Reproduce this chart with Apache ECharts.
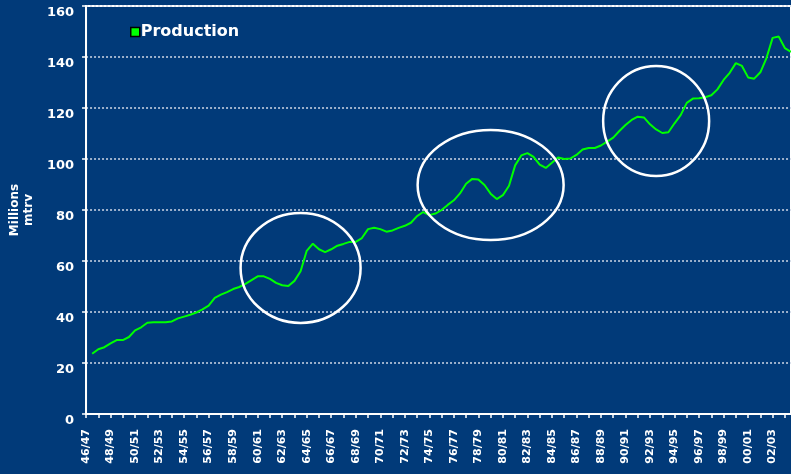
<!DOCTYPE html>
<html>
<head>
<meta charset="utf-8">
<script src="https://cdn.jsdelivr.net/npm/echarts@6/dist/echarts.min.js"></script>
<style>
  html, body { margin: 0; padding: 0; background: #013a79; }
  #chart { width: 791px; height: 474px; }
</style>
</head>
<body>
<div id="chart"></div>
<script>
// season labels, one per year (every other one is shown on the axis)
const seasons = [
  "46/47", "47/48", "48/49", "49/50", "50/51", "51/52", "52/53", "53/54", "54/55", "55/56",
  "56/57", "57/58", "58/59", "59/60", "60/61", "61/62", "62/63", "63/64", "64/65", "65/66",
  "66/67", "67/68", "68/69", "69/70", "70/71", "71/72", "72/73", "73/74", "74/75", "75/76",
  "76/77", "77/78", "78/79", "79/80", "80/81", "81/82", "82/83", "83/84", "84/85", "85/86",
  "86/87", "87/88", "88/89", "89/90", "90/91", "91/92", "92/93", "93/94", "94/95", "95/96",
  "96/97", "97/98", "98/99", "99/00", "00/01", "01/02", "02/03", "03/04"
];

// production, millions mtrv, read at half-year steps
const production = [
  "-", 23.6, 25.4, 26.2, 27.7, 29.0, 29.0, 30.2, 32.8, 34.0,
  35.8, 36.0, 36.0, 36.0, 36.3, 37.5, 38.2, 38.9, 39.8, 41.0,
  42.5, 45.5, 46.8, 47.8, 49.0, 49.8, 51.0, 52.5, 54.0, 54.0,
  53.0, 51.4, 50.5, 50.2, 52.2, 56.0, 64.0, 66.8, 64.6, 63.5,
  64.6, 66.0, 66.7, 67.5, 67.5, 69.0, 72.5, 73.0, 72.5, 71.5,
  72.0, 73.0, 73.8, 75.0, 77.6, 79.2, 78.0, 78.6, 80.0, 82.0,
  83.8, 86.5, 90.3, 92.2, 92.0, 89.8, 86.4, 84.3, 85.8, 89.5,
  97.5, 101.4, 102.3, 100.8, 97.8, 96.5, 98.5, 100.6, 100.0, 100.2,
  101.6, 103.7, 104.3, 104.3, 105.3, 106.8, 108.4, 111.0, 113.3, 115.3,
  116.6, 116.3, 113.6, 111.6, 110.2, 110.5, 114.0, 117.2, 122.0, 123.7,
  123.8, 124.2, 125.0, 127.3, 131.0, 133.8, 137.6, 136.5, 132.0, 131.5,
  134.0, 139.6, 147.5, 148.0, 143.5, 142.0
];

// highlighted periods: [half-year index, value]
const highlights = [
  { center: [35.4, 57.3], rx: 60, ry: 55 },
  { center: [66.4, 89.8], rx: 73, ry: 55 },
  { center: [93.4, 114.9], rx: 53, ry: 55 }
];

// two half-year slots per season
const halfYears = [];
seasons.forEach(s => {
  halfYears.push(s);
  halfYears.push("");
});

const white = "#ffffff";
const font = "DejaVu Sans";

const chart = echarts.init(document.getElementById("chart"));

chart.setOption({
  backgroundColor: "#013a79",
  animation: false,
  grid: {
    left: 85,
    top: 6,
    right: -2,
    bottom: 60,
    show: true,
    borderColor: white,
    borderWidth: 2,
    backgroundColor: "transparent"
  },
  legend: {
    left: 125,
    top: 19,
    itemWidth: 9,
    itemHeight: 9,
    icon: "rect",
    data: [{
      name: "Production",
      itemStyle: { color: "#00ff00", borderColor: "#000000", borderWidth: 1.5 }
    }],
    textStyle: {
      color: white,
      fontFamily: font,
      fontWeight: "bold",
      fontSize: 16,
      padding: [5, 0, 0, -4]
    }
  },
  xAxis: {
    type: "category",
    boundaryGap: false,
    data: halfYears,
    axisLine: { lineStyle: { color: white, width: 2 } },
    axisTick: { interval: 1, length: 4, lineStyle: { color: white, width: 1.5 } },
    axisLabel: {
      interval: 3,
      rotate: 90,
      margin: 15,
      color: white,
      fontFamily: font,
      fontWeight: "bold",
      fontSize: 11
    },
    splitLine: { show: false }
  },
  yAxis: {
    type: "value",
    min: 0,
    max: 160,
    interval: 20,
    name: "Millions\nmtrv",
    nameLocation: "middle",
    nameRotate: 90,
    nameGap: 50,
    nameTextStyle: { color: white, fontFamily: font, fontWeight: "bold", fontSize: 12, lineHeight: 14 },
    axisLine: { show: true, lineStyle: { color: white, width: 2 } },
    axisTick: { show: true, length: 4, lineStyle: { color: white, width: 1.5 } },
    axisLabel: {
      margin: 12,
      verticalAlign: "top",
      lineHeight: 13,
      color: white,
      fontFamily: font,
      fontWeight: "bold",
      fontSize: 13
    },
    splitLine: { lineStyle: { color: "#d0d8e6", width: 1.5, type: [2, 2] } }
  },
  series: [{
    name: "Production",
    type: "line",
    data: production,
    showSymbol: false,
    lineStyle: { color: "#00ff00", width: 2 },
    itemStyle: { color: "#00ff00" }
  }]
});

chart.setOption({
  graphic: highlights.map(h => {
    const p = chart.convertToPixel({ gridIndex: 0 }, h.center);
    return {
      type: "ellipse",
      shape: { cx: p[0], cy: p[1], rx: h.rx, ry: h.ry },
      style: { fill: "none", stroke: white, lineWidth: 2.5 },
      z: 10
    };
  })
});
</script>
</body>
</html>
